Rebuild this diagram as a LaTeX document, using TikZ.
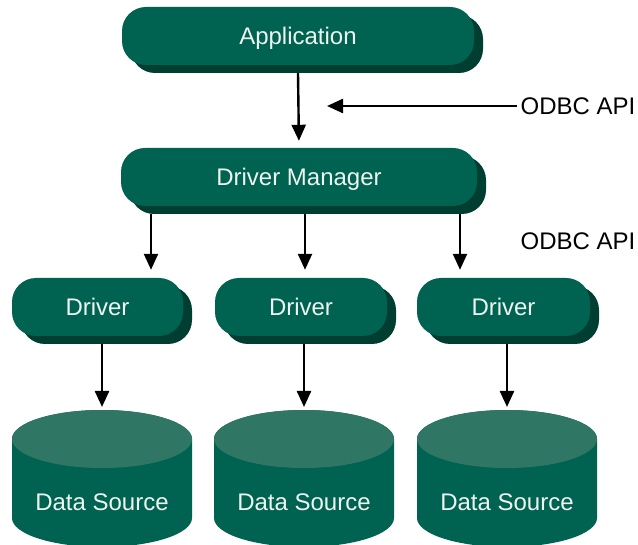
\documentclass[tikz,border=0pt]{standalone}
\usepackage{fontspec}
\setmainfont{Liberation Sans}
\usetikzlibrary{arrows.meta,shadows,calc}

\definecolor{facegreen}{RGB}{0,98,80}
\definecolor{shadegreen}{RGB}{0,62,50}
\definecolor{topgreen}{RGB}{48,118,100}
\definecolor{labelwhite}{RGB}{238,244,240}

\tikzset{
  pill/.style={fill=facegreen, rounded corners=24pt, inner sep=0pt,
    text=labelwhite, font=\fontsize{24}{28}\selectfont,
    text height=17pt, text depth=-1pt,
    drop shadow={shadow xshift=9pt, shadow yshift=-8pt, fill=shadegreen, opacity=1}},
  dsbox/.style={inner sep=0pt, minimum width=180pt, minimum height=137pt, anchor=north},
  dstext/.style={text=labelwhite, font=\fontsize{24}{28}\selectfont},
  apitext/.style={text=black, font=\fontsize{24}{28}\selectfont},
  arr/.style={line width=2.4pt, -{Triangle[length=16pt,width=14pt]}}
}

% cylinder for a data source: #1 = centre x (y axis points down)
\newcommand{\dscylinder}[1]{%
  \fill[facegreen] (#1-90,439) -- (#1-90,518) arc[start angle=180, end angle=0, x radius=90, y radius=29]
    -- (#1+90,439) arc[start angle=0, end angle=-180, x radius=90, y radius=29] -- cycle;
  \fill[topgreen] (#1,439) ellipse[x radius=90, y radius=29];
}

\begin{document}
\begin{tikzpicture}[x=1pt, y=-1pt]
\useasboundingbox (0,0) rectangle (638,545);

% layered boxes
\node[pill, minimum width=352pt, minimum height=58pt] (app) at (298,36) {Application};
\node[pill, minimum width=356pt, minimum height=58pt] (dm) at (299,177) {Driver Manager};
\node[pill, minimum width=171pt, minimum height=58pt] (d1) at (97.5,307) {Driver};
\node[pill, minimum width=172pt, minimum height=58pt] (d2) at (301,307) {Driver};
\node[pill, minimum width=173pt, minimum height=58pt] (d3) at (503.5,307) {Driver};

% data sources
\dscylinder{102}
\dscylinder{304}
\dscylinder{507}
\node[dsbox] (ds1) at (102,410) {};
\node[dsbox] (ds2) at (304,410) {};
\node[dsbox] (ds3) at (507,410) {};
\node[dstext] (ds1t) at (102,502) {Data Source};
\node[dstext] (ds2t) at (304,502) {Data Source};
\node[dstext] (ds3t) at (507,502) {Data Source};

% interface labels
\node[apitext] (api1) at (578,106) {ODBC API};
\node[apitext] (api2) at (578,241) {ODBC API};
\coordinate (apitip) at (327,106);

% connectors
\draw[arr] ([yshift=-8pt]app.south) -- (dm.north) [shorten >=7pt];
\draw[arr] (api1.west) -- (apitip);
\draw[arr] ([xshift=-148pt,yshift=-8pt]dm.south) -- ([xshift=-148pt]dm.south |- d1.north) [shorten >=8pt];
\draw[arr] ([xshift=6pt,yshift=-8pt]dm.south) -- ([xshift=6pt]dm.south |- d2.north) [shorten >=8pt];
\draw[arr] ([xshift=161pt,yshift=-8pt]dm.south) -- ([xshift=161pt]dm.south |- d3.north) [shorten >=8pt];
\draw[arr] ([yshift=-8pt]ds1.north |- d1.south) -- (ds1.north) [shorten >=3pt];
\draw[arr] ([yshift=-8pt]ds2.north |- d2.south) -- (ds2.north) [shorten >=3pt];
\draw[arr] ([yshift=-8pt]ds3.north |- d3.south) -- (ds3.north) [shorten >=3pt];
\end{tikzpicture}
\end{document}
